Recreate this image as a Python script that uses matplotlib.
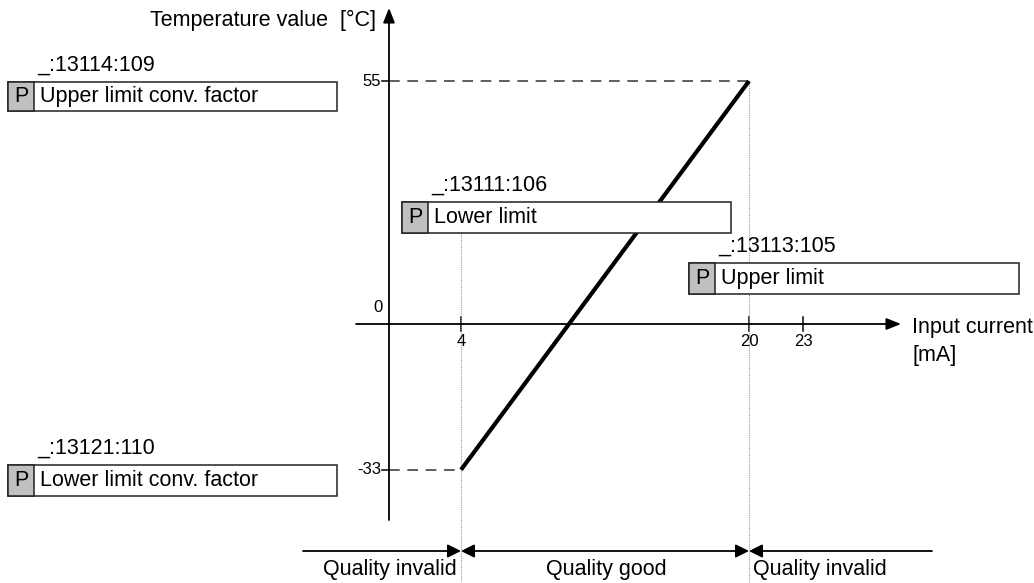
import matplotlib.pyplot as plt
from matplotlib.patches import Rectangle

plt.rcParams['font.family'] = ['Liberation Sans', 'DejaVu Sans']

# Kennlinie: Eingangsstrom (mA) -> Temperatur (°C)
current_ma = [4, 20]
temp_c = [-33, 55]
x_ticks = [4, 20, 23]
y_ticks = [55, 0, -33]

# Parameter-Kästen: Adresse, Text
param_ids = ['_:13114:109', '_:13111:106', '_:13113:105', '_:13121:110']
param_names = ['Upper limit conv. factor', 'Lower limit', 'Upper limit', 'Lower limit conv. factor']
# Lage der Kästen in Pixeln (links, oben, rechts, unten)
param_boxes = [(8, 82, 337, 111), (402, 202, 731, 233), (689, 263, 1019, 294), (8, 465, 337, 496)]

quality_labels = ['Quality invalid', 'Quality good', 'Quality invalid']

W, H = 1034, 583
X0, SX = 389, 18.0     # Pixel von 0 mA, Pixel pro mA
Y0, SY = 324, 4.418    # Pixel von 0 °C, Pixel pro °C


def px(x, y):
    # Pixel -> Datenkoordinaten
    return (x - X0) / SX, (Y0 - y) / SY


fig = plt.figure(figsize=(W / 100, H / 100), dpi=100)
ax = fig.add_axes([0, 0, 1, 1])
ax.set_xlim(px(0, 0)[0], px(W, 0)[0])
ax.set_ylim(px(0, H)[1], px(0, 0)[1])
ax.axis('off')

k = 'black'
big = 15.5
small = 12

# Achsen mit Pfeilen
ax.annotate('', xy=(0, px(0, 8)[1]), xytext=(0, px(0, 520)[1]),
            arrowprops=dict(arrowstyle='-|>,head_length=0.55,head_width=0.22', lw=1.3,
                            color=k, mutation_scale=16, shrinkA=0, shrinkB=0))
ax.annotate('', xy=(px(901, 0)[0], 0), xytext=(px(356, 0)[0], 0),
            arrowprops=dict(arrowstyle='-|>,head_length=0.55,head_width=0.22', lw=1.3,
                            color=k, mutation_scale=16, shrinkA=0, shrinkB=0))

# Striche an den Achsen
for t in x_ticks:
    ax.plot([t, t], [px(0, 317)[1], px(0, 331)[1]], color=k, lw=1.1)
    ax.text(t, px(0, 342)[1], str(t), fontsize=small, ha='center', va='center')
for t in y_ticks:
    if t != 0:
        ax.plot([px(382, 0)[0], 0], [t, t], color=k, lw=1.1)
        ax.text(px(381, 0)[0], t, str(t), fontsize=small, ha='right', va='center')
    else:
        ax.text(*px(378, 308), '0', fontsize=small, ha='center', va='center')

ax.text(*px(376, 20), 'Temperature value  [°C]', fontsize=big, ha='right', va='center')
ax.text(*px(912, 327), 'Input current', fontsize=big, ha='left', va='center')
ax.text(*px(912, 355), '[mA]', fontsize=big, ha='left', va='center')

# Hilfslinien
ax.plot([0, current_ma[1]], [temp_c[1], temp_c[1]], color='#333333', lw=1.1, ls=(0, (7, 5)))
ax.plot([0, current_ma[0]], [temp_c[0], temp_c[0]], color='#333333', lw=1.1, ls=(0, (7, 5)))
ax.plot([current_ma[0]] * 2, [px(0, 233)[1], px(0, 582)[1]], color='#999999', lw=0.8, ls=(0, (1, 1)))
ax.plot([current_ma[1]] * 2, [temp_c[1], px(0, 582)[1]], color='#999999', lw=0.8, ls=(0, (1, 1)))

# Kennlinie
ax.plot(current_ma, temp_c, color=k, lw=3, solid_capstyle='butt', zorder=4)

# Parameter-Kästen
for pid, name, (l, t, r, b) in zip(param_ids, param_names, param_boxes):
    x1, y1 = px(l, b)
    x2, y2 = px(r, t)
    xp = px(l + 26, 0)[0]
    ax.add_patch(Rectangle((x1, y1), x2 - x1, y2 - y1, facecolor='white',
                           edgecolor='#222222', lw=1.1, zorder=5))
    ax.add_patch(Rectangle((x1, y1), xp - x1, y2 - y1, facecolor='#c0c0c0',
                           edgecolor='#222222', lw=1.1, zorder=6))
    yc = (y1 + y2) / 2
    ax.text((x1 + xp) / 2, yc, 'P', fontsize=big, ha='center', va='center', zorder=7)
    ax.text(px(l + 32, 0)[0], yc, name, fontsize=big, ha='left', va='center', zorder=7)
    ax.text(px(l + 29, 0)[0], px(0, t - 17)[1], pid, fontsize=big, ha='left', va='center', zorder=7)

# Qualitätsbereiche
yq = px(0, 551)[1]
arr = dict(lw=1.3, color=k, mutation_scale=10, shrinkA=0, shrinkB=0)
ax.annotate('', xy=(current_ma[0], yq), xytext=(px(303, 0)[0], yq),
            arrowprops=dict(arrowstyle='-|>,head_length=0.8,head_width=0.4', **arr))
ax.annotate('', xy=(current_ma[1], yq), xytext=(current_ma[0], yq),
            arrowprops=dict(arrowstyle='<|-|>,head_length=0.8,head_width=0.4', **arr))
ax.annotate('', xy=(current_ma[1], yq), xytext=(px(932, 0)[0], yq),
            arrowprops=dict(arrowstyle='-|>,head_length=0.8,head_width=0.4', **arr))

yt = px(0, 570)[1]
ax.text(px(390, 0)[0], yt, quality_labels[0], fontsize=big, ha='center', va='center')
ax.text(px(606, 0)[0], yt, quality_labels[1], fontsize=big, ha='center', va='center')
ax.text(px(820, 0)[0], yt, quality_labels[2], fontsize=big, ha='center', va='center')

fig.savefig('out.png', dpi=100)
